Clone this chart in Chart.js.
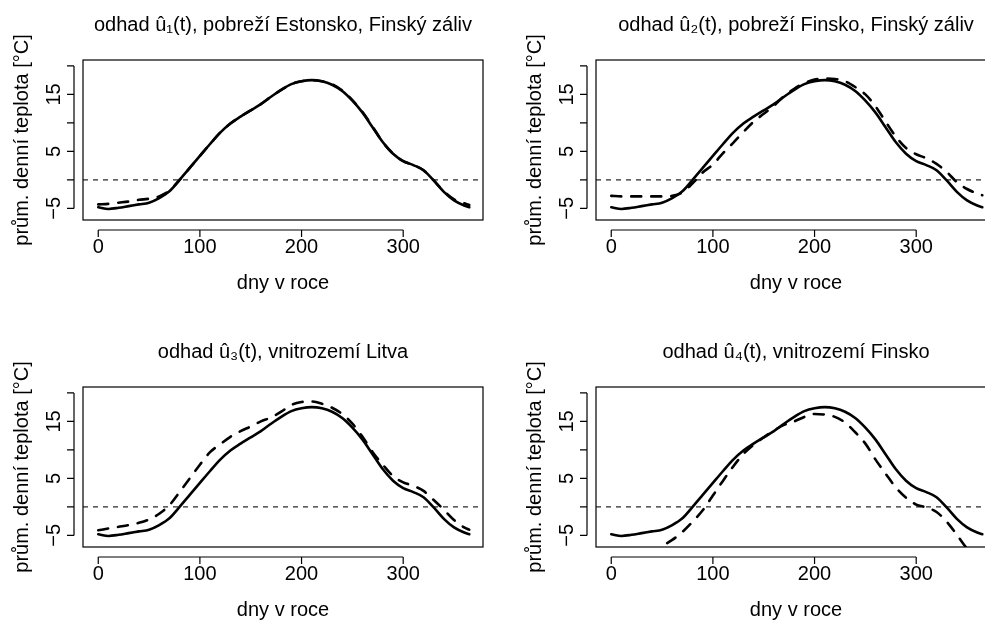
<!DOCTYPE html>
<html>
<head>
<meta charset="utf-8">
<script src="https://cdn.jsdelivr.net/npm/chart.js@4.4.1/dist/chart.umd.min.js"></script>
<style>
html, body { margin: 0; padding: 0; background: #fff; overflow: hidden; }
#plocha { position: relative; width: 985px; height: 621px; overflow: hidden; background: #fff; }
#plocha canvas { position: absolute; }
</style>
</head>
<body>
<div id="plocha">
	<canvas id="g1" width="492" height="310" style="left:0px;top:0px;width:492px;height:310px"></canvas>
	<canvas id="g2" width="492" height="310" style="left:513px;top:0px;width:492px;height:310px"></canvas>
	<canvas id="g3" width="492" height="310" style="left:0px;top:327px;width:492px;height:310px"></canvas>
	<canvas id="g4" width="492" height="310" style="left:513px;top:327px;width:492px;height:310px"></canvas>
</div>
<script>
// dny v roce
var dny = [0, 10, 20, 30, 40, 50, 60, 70, 80, 90, 100, 110, 120, 130, 140, 150, 160, 170, 180,
	190, 200, 210, 220, 230, 240, 250, 260, 270, 280, 290, 300, 310, 320, 330, 340, 350, 360, 365];

// plna cara - stejna ve vsech ctyrech grafech
var prumer = [-4.8, -5.1, -4.9, -4.6, -4.3, -4.0, -3.2, -2.0, 0.0, 2.1, 4.2, 6.3, 8.3, 9.9, 11.1, 12.2, 13.3, 14.6, 15.8,
	16.8, 17.3, 17.5, 17.3, 16.7, 15.6, 13.9, 11.8, 9.2, 6.6, 4.6, 3.3, 2.6, 1.7, -0.1, -2.1, -3.6, -4.5, -4.8];

// prerusovane cary
var odhad1 = [-4.3, -4.2, -4.0, -3.8, -3.5, -3.3, -2.9, -1.9, 0.0, 2.1, 4.2, 6.3, 8.3, 9.9, 11.1, 12.2, 13.3, 14.6, 15.8,
	16.8, 17.3, 17.5, 17.3, 16.8, 15.7, 14.0, 11.9, 9.3, 6.6, 4.6, 3.3, 2.6, 1.7, -0.1, -2.0, -3.4, -4.1, -4.4];
var odhad2 = [-2.8, -2.9, -2.9, -2.9, -2.9, -2.9, -2.8, -2.2, -0.6, 1.3, 2.7, 4.7, 6.5, 8.4, 10.2, 11.6, 13.0, 14.7, 16.0,
	17.0, 17.6, 17.8, 17.7, 17.3, 16.3, 15.0, 12.9, 10.2, 7.6, 5.6, 4.5, 3.8, 2.8, 1.4, -0.4, -1.6, -2.4, -2.7];
var odhad3 = [-4.1, -3.8, -3.5, -3.2, -2.8, -2.2, -1.2, 0.3, 2.6, 5.0, 7.4, 9.6, 11.0, 12.3, 13.3, 14.1, 15.0, 15.7, 16.7,
	17.9, 18.4, 18.5, 18.1, 17.4, 16.3, 14.6, 12.3, 9.6, 7.4, 5.4, 4.3, 3.7, 2.8, 1.2, -0.5, -2.3, -3.6, -4.0];
var odhad4 = [-9.7, -9.6, -9.3, -8.7, -7.9, -6.9, -5.8, -4.4, -2.6, -0.6, 2.0, 4.6, 7.1, 9.3, 10.9, 12.2, 13.4, 14.4, 15.0,
	15.8, 16.3, 16.2, 15.8, 14.8, 13.1, 11.1, 8.3, 5.8, 3.4, 1.6, 0.4, -0.1, -0.9, -2.6, -4.9, -7.3, -8.8, -9.4];

var nadpisy = [
	'odhad û\u2081(t), pobreží Estonsko, Finský záliv',
	'odhad û\u2082(t), pobreží Finsko, Finský záliv',
	'odhad û\u2083(t), vnitrozemí Litva',
	'odhad û\u2084(t), vnitrozemí Finsko'
];

var xTicks = [0, 100, 200, 300];
var yTicks = [-5, 0, 5, 10, 15, 20];
var yPopisky = [-5, 5, 15];

Chart.defaults.font.family = "'Liberation Sans', Arial, sans-serif";
Chart.defaults.font.size = 20;
Chart.defaults.color = '#000';

// osy ve stylu R, ramecek a vodorovna cara v nule
var rOsy = {
	id: 'rOsy',
	beforeDatasetsDraw: function(chart) {
		var ctx = chart.ctx, a = chart.chartArea;
		var y0 = chart.scales.y.getPixelForValue(0);
		ctx.save();
		ctx.beginPath();
		ctx.rect(a.left, a.top, a.right - a.left, a.bottom - a.top);
		ctx.clip();
		ctx.strokeStyle = '#222';
		ctx.lineWidth = 1.2;
		ctx.setLineDash([5, 5]);
		ctx.beginPath();
		ctx.moveTo(a.left, y0);
		ctx.lineTo(a.right, y0);
		ctx.stroke();
		ctx.restore();
	},
	afterDraw: function(chart) {
		var ctx = chart.ctx, a = chart.chartArea;
		var sx = chart.scales.x, sy = chart.scales.y;
		var ax = a.left - 9, ay = a.bottom + 10;
		ctx.save();
		ctx.strokeStyle = '#000';
		ctx.lineWidth = 1.2;
		ctx.strokeRect(a.left, a.top, a.right - a.left, a.bottom - a.top);
		ctx.beginPath();
		ctx.moveTo(ax, sy.getPixelForValue(yTicks[0]));
		ctx.lineTo(ax, sy.getPixelForValue(yTicks[yTicks.length - 1]));
		yTicks.forEach(function(v) {
			var p = sy.getPixelForValue(v);
			ctx.moveTo(ax, p);
			ctx.lineTo(ax - 7, p);
		});
		ctx.moveTo(sx.getPixelForValue(xTicks[0]), ay);
		ctx.lineTo(sx.getPixelForValue(xTicks[xTicks.length - 1]), ay);
		xTicks.forEach(function(v) {
			var p = sx.getPixelForValue(v);
			ctx.moveTo(p, ay);
			ctx.lineTo(p, ay + 7);
		});
		ctx.stroke();
		ctx.restore();
	}
};

function body(hodnoty) {
	return dny.map(function(d, i) { return {x: d, y: hodnoty[i]}; });
}

function graf(id, nadpis, odhad) {
	new Chart(document.getElementById(id), {
		type: 'line',
		data: {
			datasets: [
				{
					data: body(odhad),
					borderColor: '#000',
					borderWidth: 2.6,
					borderDash: [10, 10],
					borderCapStyle: 'round',
					borderJoinStyle: 'round',
					pointRadius: 0,
					cubicInterpolationMode: 'monotone'
				},
				{
					data: body(prumer),
					borderColor: '#000',
					borderWidth: 2.6,
					borderCapStyle: 'round',
					borderJoinStyle: 'round',
					pointRadius: 0,
					cubicInterpolationMode: 'monotone'
				}
			]
		},
		options: {
			responsive: false,
			animation: false,
			events: [],
			layout: { padding: { left: 0, right: 9, top: 0, bottom: 0 } },
			plugins: {
				legend: { display: false },
				tooltip: { enabled: false },
				title: {
					display: true,
					fullSize: false,
					text: nadpis,
					color: '#000',
					font: { size: 20, weight: 'normal' },
					padding: { top: 13, bottom: 23 }
				}
			},
			scales: {
				x: {
					type: 'linear',
					min: -15,
					max: 378.5,
					afterBuildTicks: function(s) { s.ticks = xTicks.map(function(v) { return {value: v}; }); },
					afterFit: function(s) { s.height = 90; },
					grid: { display: false, drawTicks: false },
					border: { display: false },
					ticks: {
						autoSkip: false,
						maxRotation: 0,
						padding: 15,
						color: '#000',
						callback: function(v) { return String(v); }
					},
					title: {
						display: true,
						text: 'dny v roce',
						color: '#000',
						padding: { top: 0, bottom: 15 }
					}
				},
				y: {
					type: 'linear',
					min: -7.04,
					max: 21.04,
					afterBuildTicks: function(s) { s.ticks = yTicks.map(function(v) { return {value: v}; }); },
					afterFit: function(s) { s.width = 83; },
					grid: { display: false, drawTicks: false },
					border: { display: false },
					ticks: {
						autoSkip: false,
						minRotation: 90,
						maxRotation: 90,
						crossAlign: 'center',
						padding: 17,
						color: '#000',
						callback: function(v) {
							return yPopisky.indexOf(v) >= 0 ? String(v).replace('-', '\u2212') : '';
						}
					},
					title: {
						display: true,
						text: 'prům. denní teplota [°C]',
						color: '#000',
						padding: { top: 10, bottom: 0 }
					}
				}
			}
		},
		plugins: [rOsy]
	});
}

graf('g1', nadpisy[0], odhad1);
graf('g2', nadpisy[1], odhad2);
graf('g3', nadpisy[2], odhad3);
graf('g4', nadpisy[3], odhad4);
</script>
</body>
</html>
